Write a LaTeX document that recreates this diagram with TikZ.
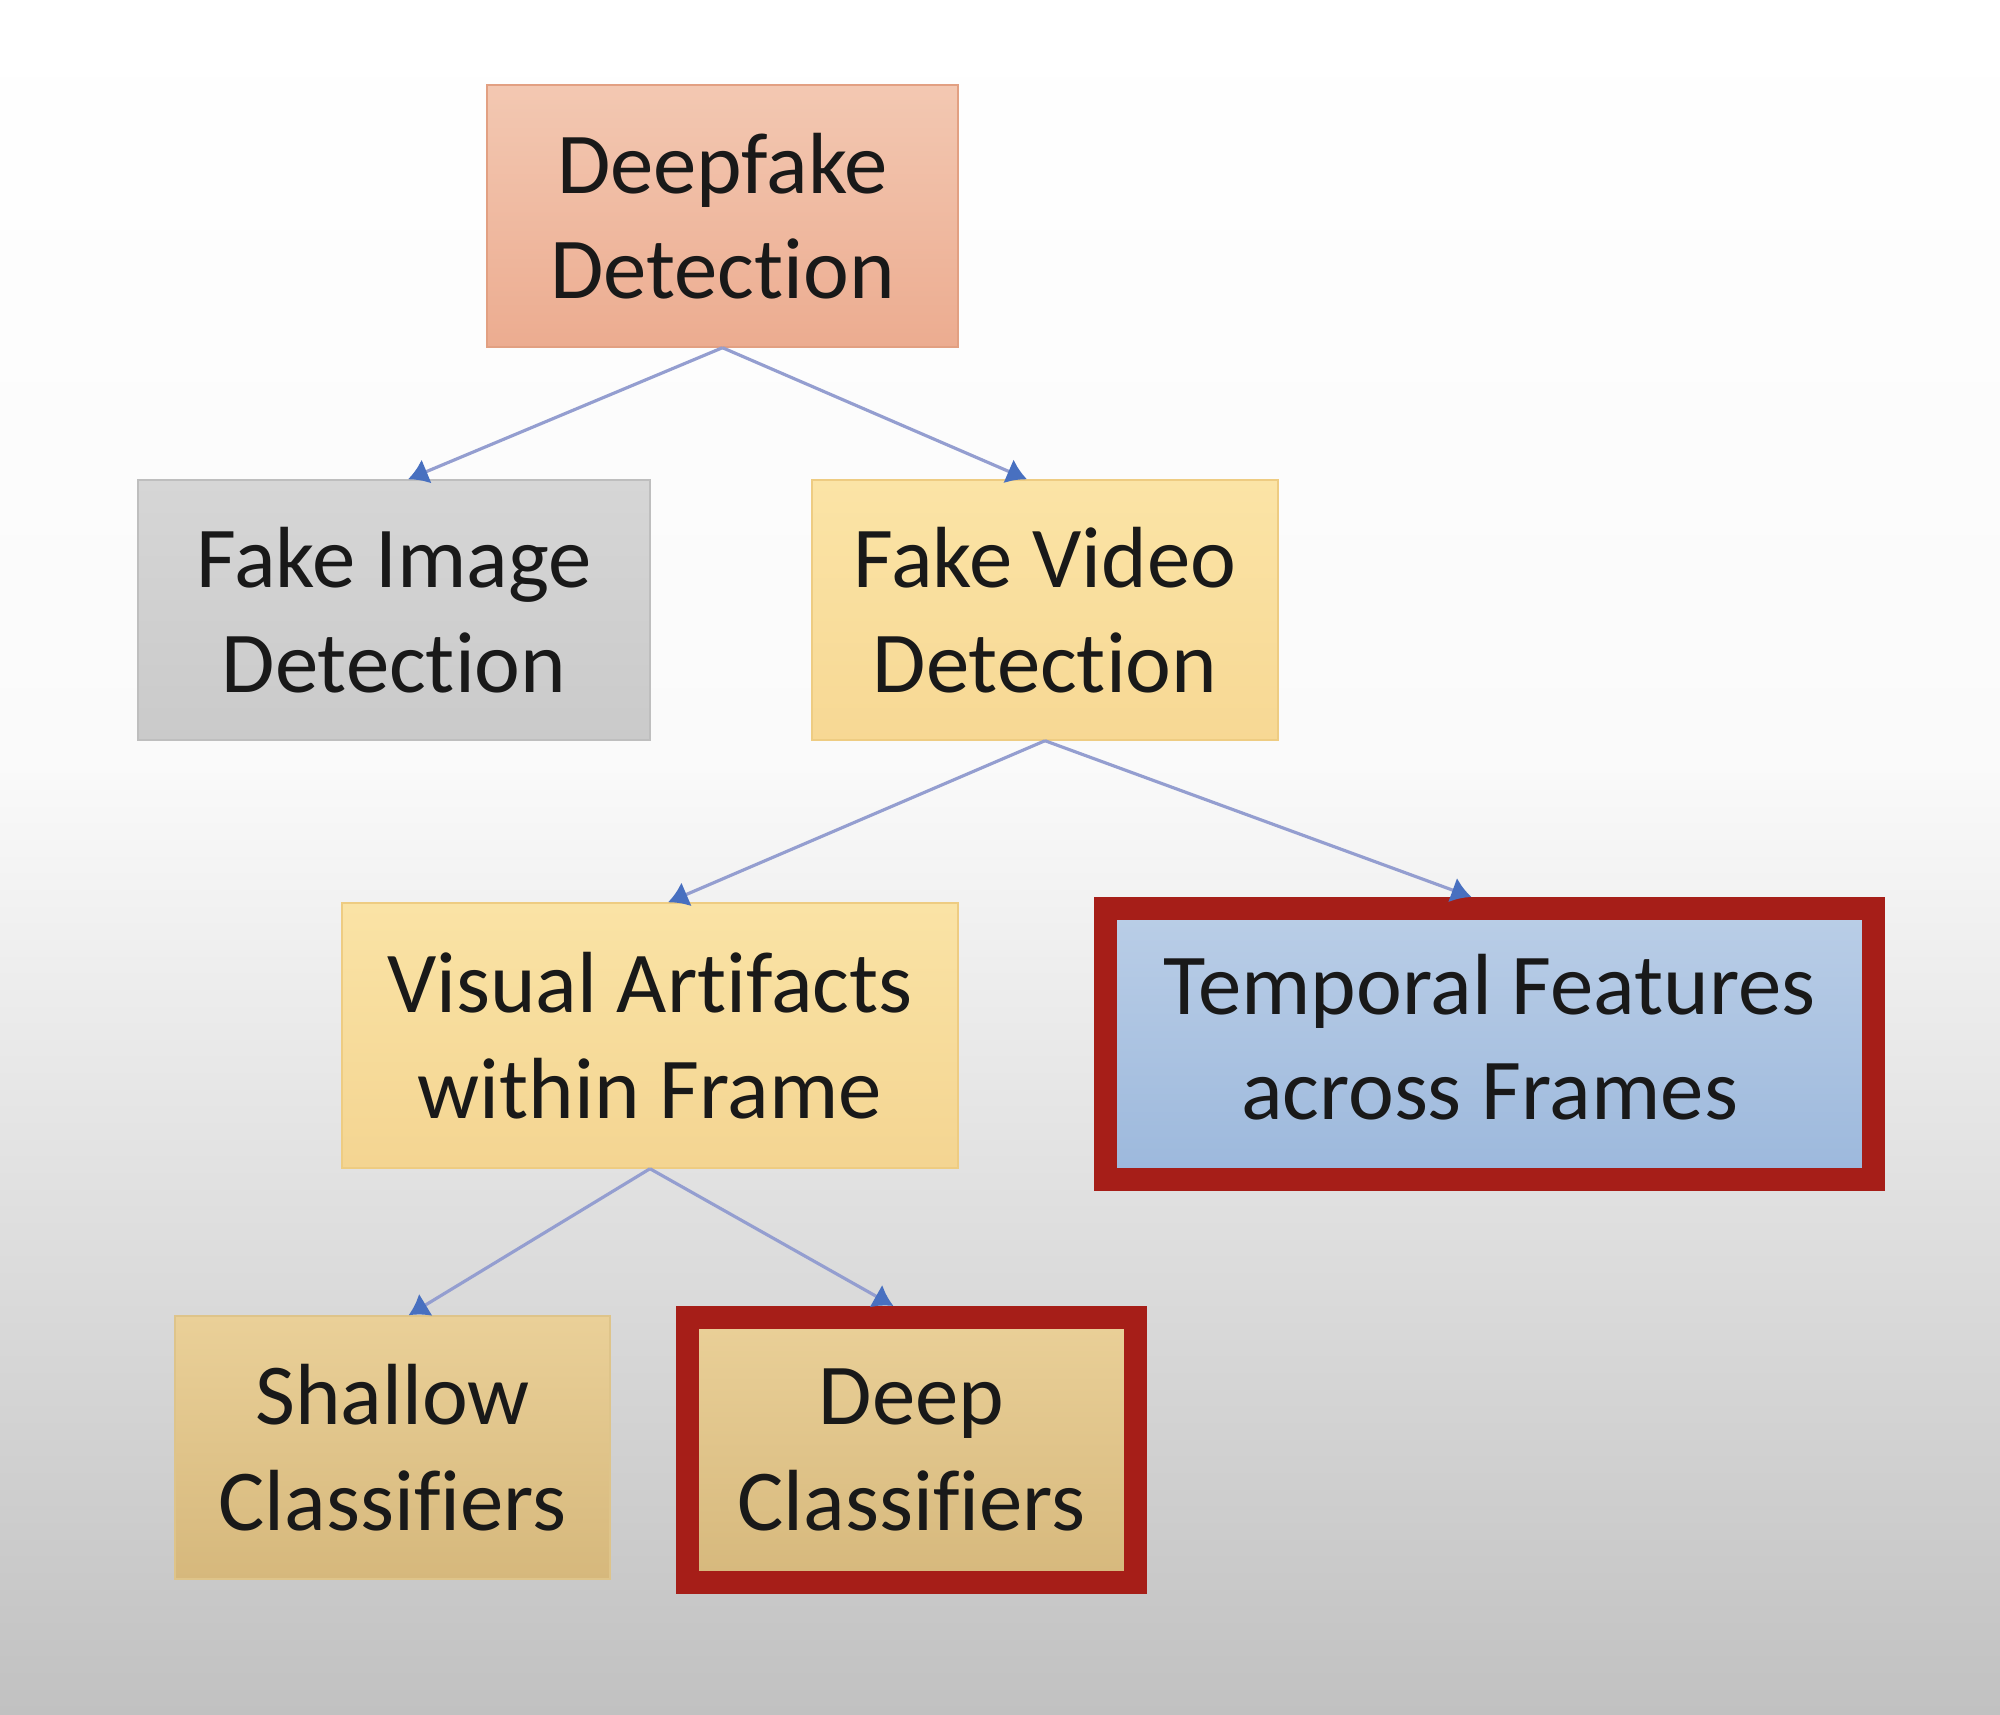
\documentclass[tikz,border=0pt]{standalone}
\usepackage{fontspec}
\setmainfont{Carlito}[Ligatures=NoCommon]
\usepackage{tikz}
\usetikzlibrary{shapes,arrows,arrows.meta}
\definecolor{bgHigh}{RGB}{250,250,250}
\definecolor{bgLow}{RGB}{193,193,193}
\definecolor{salmonTop}{RGB}{243,200,178}
\definecolor{salmonLow}{RGB}{236,172,144}
\definecolor{salmonLine}{RGB}{226,160,130}
\definecolor{greyTop}{RGB}{214,214,214}
\definecolor{greyLow}{RGB}{202,202,202}
\definecolor{greyLine}{RGB}{190,190,190}
\definecolor{sandTop}{RGB}{251,228,166}
\definecolor{sandLow}{RGB}{247,216,148}
\definecolor{sandLine}{RGB}{238,204,130}
\definecolor{tanTop}{RGB}{234,208,152}
\definecolor{tanLow}{RGB}{214,184,124}
\definecolor{tanLine}{RGB}{222,196,138}
\definecolor{skyTop}{RGB}{186,206,231}
\definecolor{skyLow}{RGB}{156,184,220}
\definecolor{frameRed}{RGB}{166,30,24}
\definecolor{lineBlue}{RGB}{148,158,208}
\definecolor{tipBlue}{RGB}{72,112,192}
\pgfdeclareverticalshading{backdrop}{100bp}{color(0bp)=(bgLow); color(25bp)=(bgLow);
    color(52.7bp)=(bgHigh); color(75bp)=(white); color(100bp)=(white)}
\tikzstyle{block} = [rectangle, draw, inner sep=0pt, align=center,
    font=\fontsize{24.7}{30}\selectfont, text=black!90]
\tikzstyle{frame} = [draw=frameRed, line width=0.23cm]
\tikzstyle{line} = [draw=lineBlue, line width=0.9pt,
    -{Latex[length=0.2cm,width=0.26cm,color=tipBlue]}]

\begin{document}
\begin{tikzpicture}
      % backdrop: white above, grey towards the bottom
      \shade [shading=backdrop] (0,0) rectangle (20,-17.14);
      \useasboundingbox (0,0) rectangle (20,-17.14);

      \node [block, minimum width=4.71cm, minimum height=2.62cm, draw=salmonLine,
         top color=salmonTop, bottom color=salmonLow] (dd) at (7.225,-2.16) {Deepfake\\Detection};
      \node [block, below of=dd, node distance=3.94cm, xshift=-3.285cm,
         minimum width=5.12cm, minimum height=2.6cm, draw=greyLine,
         top color=greyTop, bottom color=greyLow] (img) {Fake Image\\Detection};
      \node [block, right of=img, node distance=6.51cm,
         minimum width=4.66cm, minimum height=2.6cm, draw=sandLine,
         top color=sandTop, bottom color=sandLow] (vid) {Fake Video\\Detection};
      \node [block, below of=vid, node distance=4.255cm, xshift=-3.95cm,
         minimum width=6.16cm, minimum height=2.65cm, draw=sandLine,
         top color=sandTop!95!tanTop, bottom color=sandLow!90!tanLow] (vis)
         {Visual Artifacts\\within Frame};
      \node [block, frame, right of=vis, node distance=8.395cm, yshift=-0.085cm,
         minimum width=7.68cm, minimum height=2.71cm,
         top color=skyTop, bottom color=skyLow] (tmp)
         {Temporal Features\\across Frames\vphantom{p}};
      \node [block, below of=vis, node distance=4.12cm, xshift=-2.575cm,
         minimum width=4.35cm, minimum height=2.63cm, draw=tanLine,
         top color=tanTop, bottom color=tanLow] (shl) {Shallow\\Classifiers};
      \node [block, frame, right of=shl, node distance=5.19cm, yshift=-0.025cm,
         minimum width=4.48cm, minimum height=2.65cm,
         top color=tanTop, bottom color=tanLow] (dpc) {Deep\\Classifiers};

      \path [line] (dd.south) -- ([xshift=0.14cm]img.north);
      \path [line] (dd.south) -- ([xshift=-0.18cm]vid.north);
      \path [line] (vid.south) -- ([xshift=0.18cm]vis.north);
      \path [line] (vid.south) -- ([xshift=-0.18cm]tmp.north);
      \path [line] (vis.south) -- ([xshift=0.16cm]shl.north);
      \path [line] (vis.south) -- ([xshift=-0.18cm]dpc.north);
\end{tikzpicture}
\end{document}
